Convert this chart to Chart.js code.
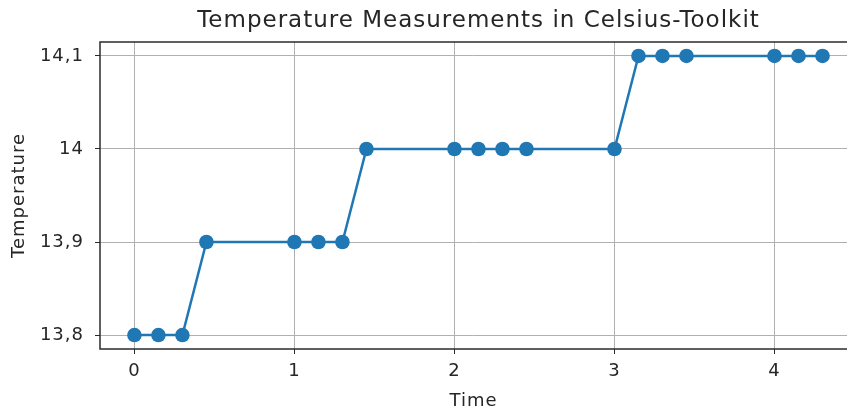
<!DOCTYPE html>
<html>
<head>
<meta charset="utf-8">
<script src="https://cdn.jsdelivr.net/npm/chart.js@4"></script>
<style>
  html, body { margin: 0; padding: 0; background: #fff; }
  #wrap { width: 847px; height: 412px; }
</style>
</head>
<body>
<div id="wrap"><canvas id="chart"></canvas></div>
<script>
// Temperature readings over time
const timeValues = [0, 0.15, 0.3, 0.45, 1, 1.15, 1.3, 1.45, 2, 2.15, 2.3, 2.45, 3, 3.15, 3.3, 3.45, 4, 4.15, 4.3];
const tempValues = [13.8, 13.8, 13.8, 13.9, 13.9, 13.9, 13.9, 14.0, 14.0, 14.0, 14.0, 14.0, 14.0, 14.1, 14.1, 14.1, 14.1, 14.1, 14.1];
const xTicks = [0, 1, 2, 3, 4];
const yTicks = [13.8, 13.9, 14.0, 14.1];
const titleText = 'Temperature Measurements in Celsius-Toolkit';

const FONT = 'DejaVu Sans';
const TEXT = '#262626';

// the reference text is a bit wide, spread letters a little
const spacing = {
    id: 'spacing',
    beforeDraw(chart) { chart.ctx.letterSpacing = '1px'; }
};

// frame around the plot area (matplotlib style), right side runs off canvas
// title centred over the axes box rather than the canvas
const frame = {
    id: 'frame',
    afterDraw(chart) {
        const { ctx, chartArea: a } = chart;
        ctx.save();
        ctx.strokeStyle = '#2b2b2b';
        ctx.lineWidth = 1.5;
        ctx.strokeRect(a.left, a.top, a.right - a.left + 20, a.bottom - a.top);

        ctx.letterSpacing = '1px';
        ctx.fillStyle = TEXT;
        ctx.font = '23px "' + FONT + '"';
        ctx.textAlign = 'center';
        ctx.textBaseline = 'middle';
        ctx.fillText(titleText, (a.left + a.right + 10) / 2, 21);
        ctx.restore();
    }
};

new Chart(document.getElementById('chart'), {
    type: 'line',
    data: {
        datasets: [{
            data: timeValues.map((t, i) => ({ x: t, y: tempValues[i] })),
            borderColor: '#1f77b4',
            backgroundColor: '#1f77b4',
            borderWidth: 2.5,
            pointRadius: 7.3,
            pointHoverRadius: 7.3,
            pointBorderWidth: 0,
            tension: 0,
            clip: false
        }]
    },
    options: {
        responsive: true,
        maintainAspectRatio: false,
        animation: false,
        layout: { autoPadding: false, padding: { top: 42, left: 0, right: 0, bottom: 0 } },
        plugins: {
            legend: { display: false },
            tooltip: { enabled: false },
            title: { display: false }
        },
        scales: {
            x: {
                type: 'linear',
                min: -0.215,
                max: 4.453,
                afterBuildTicks: s => { s.ticks = xTicks.map(v => ({ value: v })); },
                afterFit: s => { s.height = 63; },
                grid: { color: '#b0b0b0', lineWidth: 1, tickColor: '#2b2b2b', tickLength: 5 },
                border: { display: false },
                ticks: {
                    color: TEXT,
                    font: { family: FONT, size: 18 },
                    padding: 7,
                    maxRotation: 0,
                    callback: v => String(v)
                },
                title: {
                    display: true,
                    text: 'Time',
                    color: TEXT,
                    font: { family: FONT, size: 18 },
                    padding: { top: 0, bottom: 0 }
                }
            },
            y: {
                min: 13.785,
                max: 14.115,
                afterBuildTicks: s => { s.ticks = yTicks.map(v => ({ value: v })); },
                afterFit: s => { s.width = 100; },
                grid: { color: '#b0b0b0', lineWidth: 1, tickColor: '#2b2b2b', tickLength: 5 },
                border: { display: false },
                ticks: {
                    color: TEXT,
                    font: { family: FONT, size: 18 },
                    padding: 11,
                    callback: v => (Math.round(v * 10) / 10).toString().replace('.', ',')
                },
                title: {
                    display: true,
                    text: 'Temperature',
                    color: TEXT,
                    font: { family: FONT, size: 18 },
                    padding: { top: 9, bottom: 0 }
                }
            }
        }
    },
    plugins: [spacing, frame]
});
</script>
</body>
</html>
